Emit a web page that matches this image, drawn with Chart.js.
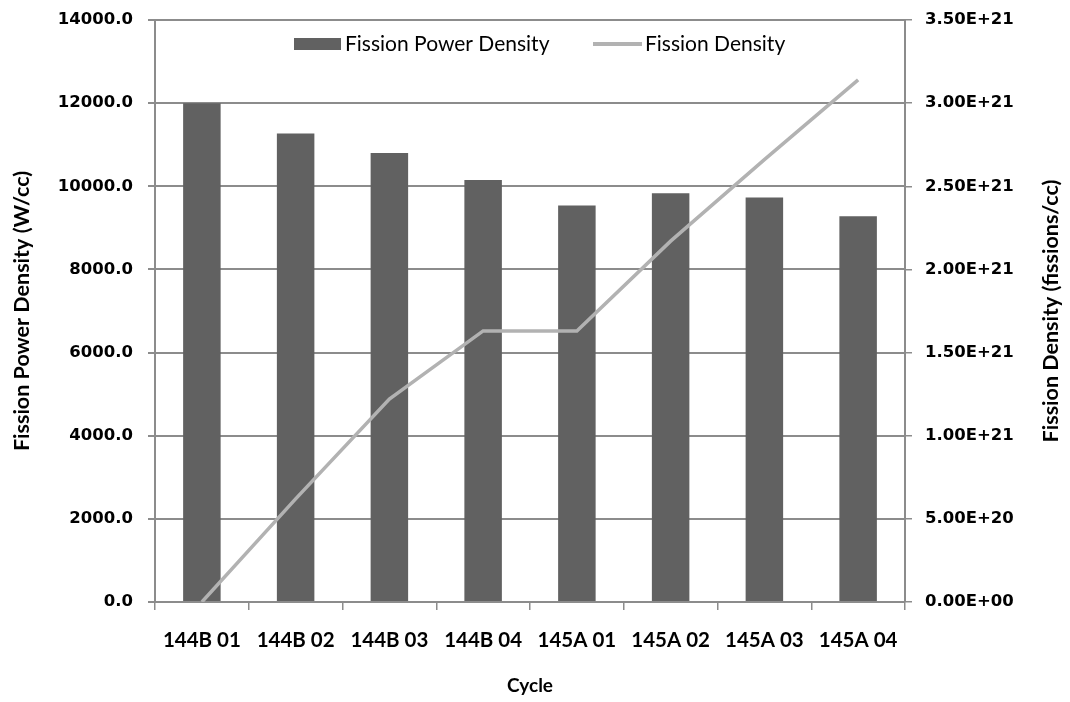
<!DOCTYPE html>
<html>
<head>
<meta charset="utf-8">
<script src="https://cdn.jsdelivr.net/npm/chart.js@4.4.1/dist/chart.umd.min.js"></script>
<style>
  html, body { margin: 0; padding: 0; background: #ffffff; }
  #wrap { width: 1070px; height: 702px; position: relative; }
</style>
</head>
<body>
<div id="wrap"><canvas id="c" width="1070" height="702"></canvas></div>
<script>
const categories = ['144B 01', '144B 02', '144B 03', '144B 04', '145A 01', '145A 02', '145A 03', '145A 04'];
const powerDensity = [12000, 11270, 10800, 10150, 9540, 9830, 9730, 9280];
const fissionDensity = [0, 6.2e20, 1.22e21, 1.63e21, 1.63e21, 2.17e21, 2.66e21, 3.14e21];
const leftTicks = [0, 2000, 4000, 6000, 8000, 10000, 12000, 14000];
const rightTicks = [0, 5e20, 1e21, 1.5e21, 2e21, 2.5e21, 3e21, 3.5e21];
const seriesNames = ['Fission Power Density', 'Fission Density'];
const axisTitles = { x: 'Cycle', y: 'Fission Power Density (W/cc)', y1: 'Fission Density (fissions/cc)' };

const GRID = '#8c8c8c';
const BAR = '#616161';
const LINE = '#b2b2b2';
const tickFont = { family: '"DejaVu Sans", Verdana, sans-serif', size: 16.5, weight: 'bold' };
const titleFont = { family: 'Lato, "Open Sans", sans-serif', size: 21.5, weight: 'bold' };

function fmtExp(v) {
  if (v === 0) return '0.00E+00';
  let s = v.toExponential(2).toUpperCase();
  return s.replace(/E([+-])(\d)$/, 'E$10$2');
}

const legendPlugin = {
  id: 'insideLegend',
  afterDraw(chart) {
    const ctx = chart.ctx;
    const ca = chart.chartArea;
    ctx.save();
    ctx.font = '21px Lato, "Open Sans", sans-serif';
    ctx.textBaseline = 'middle';
    const cy = ca.top + 24;
    let x = ca.left + 139;
    ctx.fillStyle = BAR;
    ctx.fillRect(x, cy - 6, 47, 12);
    ctx.fillStyle = '#000';
    ctx.fillText(seriesNames[0], x + 51, cy);
    x = ca.left + 438;
    ctx.strokeStyle = LINE;
    ctx.lineWidth = 4;
    ctx.beginPath();
    ctx.moveTo(x, cy);
    ctx.lineTo(x + 49, cy);
    ctx.stroke();
    ctx.fillText(seriesNames[1], x + 52, cy);

    // right axis title, reading bottom-to-top like the reference
    const s = chart.scales.y1;
    ctx.translate(s.right - 19, (ca.top + ca.bottom) / 2);
    ctx.rotate(-Math.PI / 2);
    ctx.font = 'bold 21.5px Lato, "Open Sans", sans-serif';
    ctx.textAlign = 'center';
    ctx.fillText(axisTitles.y1, 0, 0);
    ctx.restore();
  }
};

new Chart(document.getElementById('c'), {
  data: {
    labels: categories,
    datasets: [
      {
        type: 'line',
        label: seriesNames[1],
        data: fissionDensity,
        yAxisID: 'y1',
        borderColor: LINE,
        borderWidth: 3.5,
        pointRadius: 0,
        tension: 0,
        fill: false,
        order: 0
      },
      {
        type: 'bar',
        label: seriesNames[0],
        data: powerDensity,
        yAxisID: 'y',
        backgroundColor: BAR,
        borderWidth: 0,
        categoryPercentage: 1,
        barPercentage: 0.4,
        order: 1
      }
    ]
  },
  options: {
    responsive: false,
    animation: false,
    layout: { padding: { top: 20, left: 0, right: 0, bottom: 0 } },
    plugins: { legend: { display: false }, tooltip: { enabled: false } },
    scales: {
      x: {
        position: 'bottom',
        afterFit(s) { s.height = 100; s.paddingLeft = 0; s.paddingRight = 0; },
        grid: { display: true, drawOnChartArea: false, drawTicks: true, tickLength: 8, color: GRID, lineWidth: 1.5, offset: true },
        border: { display: true, color: GRID, width: 2 },
        ticks: { color: '#000', font: { family: 'Lato, sans-serif', size: 20.5, weight: 'bold' }, padding: 18, maxRotation: 0, autoSkip: false },
        title: { display: true, text: axisTitles.x, color: '#000', font: { family: 'Lato, "Open Sans", sans-serif', size: 19, weight: 'bold' }, padding: { top: 0, bottom: 5 } }
      },
      y: {
        position: 'left',
        min: 0, max: 14000,
        afterFit(s) { s.width = 155; s.paddingTop = 0; s.paddingBottom = 0; },
        afterBuildTicks(s) { s.ticks = leftTicks.map(v => ({ value: v })); },
        grid: { color: GRID, lineWidth: 2, drawTicks: true, tickLength: 7 },
        border: { display: true, color: GRID, width: 2 },
        ticks: { color: '#000', font: tickFont, padding: 15, callback: v => Number(v).toFixed(1) },
        title: { display: true, text: axisTitles.y, color: '#000', font: titleFont, padding: { top: 9, bottom: 0 } }
      },
      y1: {
        position: 'right',
        min: 0, max: 3.5e21,
        afterFit(s) { s.width = 165; s.paddingTop = 0; s.paddingBottom = 0; },
        afterBuildTicks(s) { s.ticks = rightTicks.map(v => ({ value: v })); },
        grid: { drawOnChartArea: false, color: GRID, lineWidth: 1.5, drawTicks: true, tickLength: 7 },
        border: { display: true, color: GRID, width: 2 },
        ticks: { color: '#000', font: tickFont, padding: 13, callback: v => fmtExp(Number(v)) },
        title: { display: false }
      }
    }
  },
  plugins: [legendPlugin]
});
</script>
</body>
</html>
